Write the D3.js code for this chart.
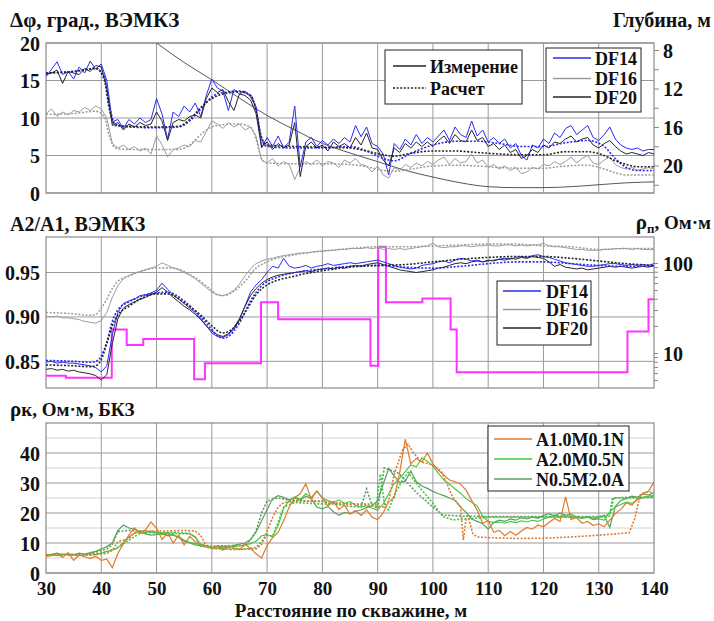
<!DOCTYPE html>
<html>
<head>
<meta charset="utf-8">
<script src="https://cdn.jsdelivr.net/npm/d3@7"></script>
<style>
  body { margin: 0; background: #fff; }
  svg text { font-family: "Liberation Serif", "Times New Roman", serif; font-weight: bold; fill: #111; }
</style>
</head>
<body>
<div id="chart"></div>
<script>
// ---- data -------------------------------------------------------------
// measured curves are sampled every 1 m from 30 to 140 m
const DIST = d3.range(30, 141);
const X_TICKS = [30, 40, 50, 60, 70, 80, 90, 100, 110, 120, 130, 140];

// panel 1: phase difference, deg
const dphiDF14 = [15.5,16.5,17.5,15.8,16.2,15.2,16.8,16.0,17.6,16.5,17.2,15.0,9.5,9.8,8.6,9.8,9.2,10.0,9.4,9.8,
  12.6,10.5,7.2,10.8,10.2,11.6,10.8,12.0,10.2,13.0,15.2,14.0,13.6,11.0,13.8,13.2,13.6,12.8,11.5,6.0,
  7.4,6.2,7.6,6.0,6.8,11.6,3.5,6.8,7.4,6.2,7.0,6.4,7.2,6.6,7.4,6.8,9.0,7.5,8.8,6.6,
  6.2,5.2,2.4,6.6,5.8,7.2,6.4,7.8,6.6,7.4,6.8,7.6,8.4,7.0,8.8,7.8,7.4,9.6,7.6,8.4,
  6.8,7.4,6.6,7.2,6.0,6.6,5.0,4.4,6.4,6.0,7.2,6.6,8.0,7.4,8.6,9.0,7.8,8.4,9.0,7.4,
  7.0,7.8,8.8,7.2,6.4,6.0,5.8,6.0,5.6,5.8,5.8];
const dphiDF16 = [10.6,11.2,10.2,10.8,10.4,11.0,10.8,11.4,11.0,11.6,11.2,10.0,6.6,6.0,6.4,5.8,6.2,5.6,6.0,5.2,
  7.6,6.4,4.8,5.8,6.0,6.4,6.2,7.0,6.8,8.2,9.6,9.2,8.6,9.4,8.8,9.2,8.4,8.8,7.6,4.4,
  4.0,4.6,3.6,4.2,3.8,1.8,3.4,4.2,3.8,4.4,3.6,4.2,4.0,3.4,4.4,4.0,4.6,3.8,3.6,2.8,
  3.6,2.4,2.0,3.4,3.0,3.8,3.4,4.0,3.6,4.2,3.8,4.4,4.8,3.8,4.6,4.0,4.2,5.2,4.0,4.4,
  3.4,3.8,3.2,3.6,3.0,3.4,2.6,2.8,3.4,3.2,3.8,3.6,4.2,3.8,4.2,4.8,4.0,4.6,5.0,4.0,
  3.8,4.4,4.8,3.8,3.4,3.2,3.4,3.0,3.2,3.4,3.2];
const dphiDF20 = [15.8,16.0,16.4,14.6,16.2,16.0,15.8,16.6,16.2,17.0,16.8,14.0,9.0,9.4,8.4,9.2,8.8,9.4,9.0,9.2,
  10.8,9.6,7.0,9.4,9.8,9.6,10.2,10.4,10.0,12.6,14.0,13.4,13.8,12.2,11.0,13.2,13.0,12.4,10.6,6.2,
  6.8,5.8,6.6,6.0,6.4,9.4,2.2,6.2,6.8,6.0,6.4,5.6,6.8,6.2,6.6,6.0,7.4,6.4,8.0,6.0,
  5.8,4.4,3.6,6.0,5.4,6.6,6.0,6.8,6.2,6.8,6.2,7.0,7.6,6.6,7.8,7.0,6.8,8.4,7.0,7.4,
  6.2,6.6,5.8,6.4,5.4,5.8,4.6,5.0,5.8,5.4,6.4,6.0,6.8,6.6,7.2,7.6,6.8,7.2,7.4,6.4,
  6.0,6.6,7.0,6.2,5.6,5.2,5.4,5.2,5.0,5.4,5.2];
const dphiCalcDF14 = [[30,16],[33,16.1],[36,16.3],[39,16.6],[40.5,15.6],[41.5,11.5],[42.5,9.2],[45,8.8],[50,8.7],[54,8.8],
  [56,9.6],[58,11.2],[60,12.8],[62,13.4],[65,13.6],[67,13.0],[68,11.2],[69,7.2],[70,6.2],[75,6.0],[80,6.0],[85,6.2],
  [88,5.6],[91,4.6],[93,4.3],[96,5.3],[100,6.4],[104,6.9],[108,6.9],[112,6.6],[116,6.2],[120,6.2],[124,6.7],[128,7.0],
  [131,6.2],[133,4.6],[135,3.4],[137,3.0],[140,3.0]];
const dphiCalcDF16 = [[30,10.5],[35,10.6],[39,10.9],[40.5,10.2],[41.5,7.5],[42.5,6.0],[45,5.8],[50,5.8],[54,5.8],[56,6.4],
  [58,7.8],[60,8.8],[62,9.1],[65,9.2],[67,8.8],[68,7.2],[69,4.6],[70,4.0],[75,3.9],[80,3.9],[85,3.8],[88,3.5],[91,3.0],
  [93,2.9],[96,3.2],[100,3.6],[104,3.7],[108,3.6],[112,3.4],[116,3.3],[120,3.3],[124,3.6],[128,3.7],[131,3.2],[133,2.7],
  [135,2.4],[140,2.4]];
const dphiCalcDF20 = [[30,16],[35,16.2],[39,16.6],[40.5,15.2],[41.5,11],[42.5,9.0],[45,8.9],[50,8.8],[54,8.9],[56,9.8],
  [58,11.4],[60,12.6],[62,13.2],[65,13.5],[67,13.0],[68,11.0],[69,7.4],[70,6.4],[75,6.2],[80,6.1],[85,6.0],[88,5.6],
  [91,5.1],[93,4.9],[96,5.3],[100,5.6],[104,5.6],[108,5.4],[112,5.2],[116,5.1],[120,5.1],[124,5.5],[128,5.5],[131,5.0],
  [133,4.3],[135,3.8],[137,3.5],[140,3.5]];
// well trajectory depth, m (right axis)
const depthCurve = [[50,7.27],[55,9.3],[60,11.1],[65,13.0],[70,14.8],[75,16.3],[80,17.7],[85,18.7],[90,19.6],[95,20.5],
  [100,21.2],[105,21.8],[110,22.2],[115,22.3],[120,22.3],[125,22.2],[130,22.0],[135,21.8],[140,21.7]];

// panel 2: amplitude ratio
const ampDF14 = [0.849,0.850,0.848,0.849,0.848,0.848,0.847,0.846,0.845,0.843,0.838,0.845,0.880,0.905,0.915,0.918,0.920,0.924,0.925,0.927,
  0.930,0.938,0.931,0.925,0.920,0.915,0.910,0.905,0.898,0.890,0.882,0.878,0.877,0.880,0.886,0.897,0.912,0.928,0.936,0.942,
  0.950,0.957,0.955,0.966,0.957,0.955,0.956,0.958,0.955,0.957,0.958,0.960,0.958,0.959,0.960,0.961,0.960,0.961,0.962,0.963,
  0.964,0.962,0.960,0.958,0.956,0.955,0.954,0.955,0.958,0.959,0.960,0.962,0.963,0.961,0.964,0.966,0.965,0.963,0.964,0.962,
  0.963,0.964,0.965,0.966,0.965,0.967,0.968,0.967,0.969,0.970,0.968,0.967,0.965,0.963,0.961,0.960,0.959,0.958,0.957,0.957,
  0.958,0.959,0.960,0.960,0.959,0.958,0.959,0.958,0.959,0.958,0.960];
const ampDF16 = [0.901,0.900,0.901,0.899,0.899,0.898,0.897,0.895,0.894,0.893,0.896,0.905,0.922,0.935,0.943,0.947,0.949,0.951,0.953,0.955,
  0.957,0.961,0.958,0.955,0.953,0.950,0.947,0.943,0.938,0.933,0.928,0.925,0.924,0.926,0.930,0.937,0.946,0.954,0.960,0.963,
  0.965,0.966,0.968,0.969,0.970,0.971,0.972,0.972,0.973,0.974,0.974,0.975,0.975,0.976,0.976,0.977,0.977,0.977,0.978,0.977,
  0.978,0.976,0.977,0.976,0.977,0.976,0.977,0.978,0.979,0.980,0.983,0.979,0.978,0.979,0.979,0.980,0.980,0.979,0.980,0.980,
  0.981,0.980,0.980,0.981,0.981,0.980,0.981,0.980,0.981,0.981,0.983,0.980,0.979,0.979,0.978,0.977,0.976,0.976,0.975,0.975,
  0.975,0.976,0.976,0.977,0.977,0.977,0.976,0.977,0.976,0.976,0.976];
const ampDF20 = [0.841,0.842,0.840,0.841,0.839,0.840,0.838,0.837,0.836,0.834,0.829,0.835,0.870,0.898,0.910,0.914,0.917,0.920,0.922,0.925,
  0.928,0.933,0.928,0.922,0.917,0.912,0.908,0.903,0.897,0.890,0.884,0.880,0.878,0.881,0.888,0.898,0.912,0.924,0.932,0.938,
  0.942,0.945,0.947,0.948,0.949,0.950,0.951,0.952,0.951,0.953,0.954,0.955,0.954,0.956,0.955,0.957,0.958,0.957,0.959,0.960,
  0.961,0.959,0.957,0.955,0.953,0.952,0.951,0.950,0.951,0.952,0.953,0.955,0.956,0.958,0.960,0.961,0.960,0.962,0.963,0.962,
  0.964,0.963,0.965,0.964,0.966,0.965,0.967,0.966,0.968,0.967,0.966,0.962,0.957,0.959,0.956,0.955,0.954,0.955,0.953,0.954,
  0.955,0.956,0.957,0.956,0.957,0.956,0.955,0.956,0.957,0.956,0.958];
const ampCalcDF14 = [[30,0.851],[35,0.850],[38,0.849],[39,0.850],[40,0.856],[41,0.872],[42,0.895],[43,0.908],[45,0.917],[50,0.927],
  [52,0.928],[55,0.918],[58,0.900],[60,0.886],[61,0.879],[62,0.876],[63,0.878],[65,0.893],[67,0.918],[69,0.935],[72,0.945],
  [76,0.951],[80,0.954],[85,0.957],[90,0.958],[95,0.956],[100,0.955],[105,0.957],[110,0.960],[115,0.962],[120,0.962],
  [125,0.960],[130,0.958],[135,0.957],[140,0.957]];
const ampCalcDF16 = [[30,0.905],[34,0.904],[38,0.902],[39,0.903],[40,0.910],[41,0.920],[42,0.932],[43,0.940],[45,0.946],[50,0.955],
  [53,0.955],[56,0.948],[60,0.930],[61,0.925],[62,0.924],[64,0.929],[66,0.940],[68,0.955],[70,0.962],[75,0.970],[80,0.974],
  [85,0.977],[90,0.979],[95,0.979],[100,0.980],[105,0.981],[110,0.982],[115,0.982],[120,0.980],[125,0.979],[130,0.976],
  [135,0.977],[140,0.977]];
const ampCalcDF20 = [[30,0.846],[35,0.845],[38,0.844],[39,0.845],[40,0.852],[41,0.870],[42,0.890],[43,0.902],[45,0.912],[50,0.926],
  [52,0.926],[55,0.916],[58,0.902],[60,0.890],[62,0.882],[64,0.888],[66,0.905],[68,0.925],[70,0.936],[75,0.946],[80,0.952],
  [85,0.956],[90,0.958],[95,0.959],[100,0.962],[105,0.965],[110,0.967],[115,0.968],[120,0.968],[125,0.966],[130,0.963],
  [135,0.960],[140,0.958]];
// model resistivity, Ohm*m (step, right log axis)
const rhoModel = [[30,5.6],[33.6,5.3],[41.9,18.3],[44.6,12.3],[47.6,14.3],[56.8,5.1],[58.75,7.7],[68.9,36.6],[72.0,23.7],
  [88.7,7.2],[90.1,152],[91.5,36.6],[98.1,40.4],[103.2,18.3],[104.3,6.1],[135.2,17.3],[139.0,39.5],[140,39.5]];

// panel 3: apparent resistivity, BKZ
const bkzA1 = [5.5,5.8,6.5,5.2,6.8,4.2,6.0,5.4,4.8,5.6,4.2,4.6,1.8,6.5,9.8,12.6,15.0,13.2,14.4,17.0,
  15.0,11.2,13.4,10.0,12.6,9.4,12.2,10.4,9.6,9.0,8.2,9.0,7.6,9.2,8.4,7.8,9.6,8.2,6.4,5.0,
  9.2,11.8,13.6,17.4,22.0,25.2,26.4,29.8,24.6,27.4,25.0,22.4,23.8,21.2,22.6,19.6,20.8,19.2,21.0,18.6,
  17.8,20.0,23.8,25.0,33.6,44.6,36.4,38.2,37.0,40.0,36.4,34.2,32.6,31.0,30.4,29.6,27.6,24.2,21.0,16.6,
  17.4,13.6,14.2,12.4,13.8,12.6,14.0,15.2,14.6,16.0,15.4,16.8,18.2,17.2,25.4,17.8,18.4,16.6,17.2,15.8,
  16.4,15.4,17.6,19.8,21.2,23.4,22.6,24.8,26.6,27.2,30.4];
const bkzA2 = [6.0,6.2,5.8,6.4,6.0,6.2,5.8,6.0,6.4,6.2,6.6,7.2,7.6,8.4,10.2,12.0,13.2,13.8,13.4,14.0,
  13.6,12.8,13.2,12.6,12.0,11.0,10.2,9.8,9.4,9.0,8.6,8.8,8.4,8.6,8.8,9.0,9.4,9.8,10.6,12.4,
  12.8,12.2,15.8,21.6,24.2,25.4,24.6,26.4,25.2,27.2,25.0,24.2,23.6,24.4,23.2,23.8,22.6,22.0,22.4,21.6,
  21.0,23.0,26.4,29.8,31.6,33.8,36.0,35.4,38.4,37.2,35.6,33.2,31.0,29.6,28.0,26.6,24.8,23.6,22.4,19.0,
  17.2,16.8,17.0,16.6,17.2,16.8,17.4,17.0,17.6,17.2,18.0,18.6,19.4,18.8,19.2,18.4,18.8,18.2,18.6,17.8,
  18.0,17.6,20.4,22.0,22.8,23.6,23.2,24.4,25.0,25.6,26.0];
const bkzN05 = [6.0,6.2,6.6,6.0,6.4,6.0,6.6,6.2,6.8,7.2,8.0,8.8,10.0,14.2,16.0,15.0,14.6,13.8,13.0,12.6,
  12.8,13.2,12.4,12.8,11.8,10.6,10.0,9.4,9.0,8.8,8.4,8.8,9.0,8.6,9.2,9.6,10.0,11.2,13.6,17.4,
  21.2,24.8,25.8,25.2,24.4,25.0,24.2,25.6,24.8,22.0,21.4,22.2,20.4,19.2,20.2,19.8,20.6,21.0,21.8,22.4,
  24.0,29.6,34.8,32.4,30.2,30.6,34.0,30.4,29.0,28.2,27.2,26.4,25.8,25.0,24.2,22.0,20.2,18.0,17.2,16.4,
  14.6,16.8,17.6,17.2,18.0,17.6,18.4,18.0,18.6,18.2,19.2,19.8,19.0,20.0,19.2,19.6,18.6,18.2,18.8,18.0,
  18.4,19.2,15.2,22.2,24.2,24.8,25.6,25.2,26.4,26.0,26.8];
const bkzCalcA1 = [[30,6],[38,6],[41,6.5],[42,7.5],[43,10.5],[45,11.5],[46,13.5],[48,14],[52,14],[55,14.2],[57,14],[58,12.5],
  [59,9],[60,8.2],[64,7.8],[68,8],[69,9.5],[70,14],[71,18.5],[72,22],[73,23.5],[76,24],[80,24],[85,23],[89,22.5],[91,22],
  [92,24],[93,33],[94.5,41],[95.5,43],[96.5,40],[98,37],[100,36],[101.5,34],[102.5,30],[103.5,25.5],[105,22],[105.5,11],
  [106,18],[106.5,18],[107.2,13.2],[108,12],[110,11.8],[115,11.5],[120,11.6],[125,12],[130,12.6],[135.5,13.4],[136.5,18],
  [137.5,26],[138.5,27],[140,27]];
const bkzCalcA2 = [[30,6],[38,6],[41,7],[43,8.5],[45,11],[47,13.2],[50,13.5],[54,13.5],[56,13.2],[57,12],[58,9],[60,8.2],
  [66,8],[68,8.5],[69,10.5],[70,12.5],[71,12.2],[72,17],[73,22],[75,23.5],[80,23],[85,23],[89.8,23],[90.5,33],[91.3,22],
  [92,21],[93,26],[94.5,31],[95.5,33.5],[97.5,28.8],[100,23.2],[101.8,18.8],[103.6,17.7],[110,18.6],[120,18.6],[130,18.6],
  [132,19],[132.7,25],[135,25],[140,25.4]];
const bkzCalcN05 = [[30,6],[38,6.4],[40,7.5],[41,8],[42,9.5],[43,13.8],[45,14.2],[48,14],[50,13.4],[56,13],[57,12],[58,9.4],
  [60,9],[66,9.2],[67,11],[68,14],[69,20],[70,24],[72,25],[74,24.2],[80,23.8],[85,22.2],[87,22],[88,28],[89,22.5],[90,21.5],
  [91.2,35],[93.9,33.2],[96.9,27],[100,22],[101.8,19.3],[105,19],[110,18.8],[120,18.8],[130,18.8],[132,19.5],[132.5,25],
  [135,25.2],[140,25.2]];

// ---- layout -----------------------------------------------------------
const W = 714, H = 621;
const X0 = 46, X1 = 654;
const C = { blue: '#2b2bf2', gray: '#9c9c9c', black: '#262626', pink: '#ff33ff',
            orange: '#e07a2c', green: '#3cc83c', dgreen: '#5e9e5e', grid: '#9a9a9a', gridLight: '#d2d2d2' };
const DOT = '2,1.6';

const svg = d3.select('#chart').append('svg').attr('width', W).attr('height', H);
const x = d3.scaleLinear().domain([30, 140]).range([X0, X1]);
const onGrid = arr => DIST.map((d, i) => [d, arr[i]]);

function panel(id, top, bottom, yScale, yTicks, fmt, minor) {
  const g = svg.append('g');
  g.append('clipPath').attr('id', id).append('rect')
    .attr('x', X0).attr('y', top).attr('width', X1 - X0).attr('height', bottom - top);
  if (minor) {
    g.selectAll('.hminor').data(minor).join('line')
      .attr('x1', X0).attr('x2', X1).attr('y1', d => yScale(d)).attr('y2', d => yScale(d))
      .attr('stroke', C.gridLight).attr('stroke-width', 1);
  }
  g.selectAll('.hgrid').data(yTicks).join('line')
    .attr('x1', X0).attr('x2', X1).attr('y1', d => yScale(d)).attr('y2', d => yScale(d))
    .attr('stroke', C.grid).attr('stroke-width', 1);
  g.selectAll('.vgrid').data(X_TICKS.slice(1, -1)).join('line')
    .attr('x1', d => x(d)).attr('x2', d => x(d)).attr('y1', top).attr('y2', bottom)
    .attr('stroke', C.grid).attr('stroke-width', 1);
  g.append('rect').attr('x', X0).attr('y', top).attr('width', X1 - X0).attr('height', bottom - top)
    .attr('fill', 'none').attr('stroke', '#8a8a8a').attr('stroke-width', 1.2);

  const ax = g.append('g').attr('transform', `translate(${X0 - 3},0)`)
    .call(d3.axisLeft(yScale).tickValues(yTicks).tickSize(0).tickFormat(fmt));
  ax.select('.domain').remove();
  ax.selectAll('text').attr('font-size', 20).attr('dy', '0.35em');

  const plot = g.append('g').attr('clip-path', `url(#${id})`);
  return plot;
}

function drawLine(plot, data, y, color, width, dotted, curve) {
  plot.append('path').datum(data)
    .attr('fill', 'none').attr('stroke', color).attr('stroke-width', width)
    .attr('stroke-dasharray', dotted ? DOT : null)
    .attr('d', d3.line().x(d => x(d[0])).y(d => y(d[1])).curve(curve || d3.curveLinear));
}

function legend(items, bx, by, bw, bh, lx0, lx1, tx, rows) {
  const g = svg.append('g');
  g.append('rect').attr('x', bx).attr('y', by).attr('width', bw).attr('height', bh)
    .attr('fill', '#fff').attr('stroke', '#222').attr('stroke-width', 1);
  items.forEach((it, i) => {
    const cy = rows[i];
    g.append('line').attr('x1', lx0).attr('x2', lx1).attr('y1', cy).attr('y2', cy)
      .attr('stroke', it.color).attr('stroke-width', it.width || 1.6)
      .attr('stroke-dasharray', it.dotted ? DOT : null);
    g.append('text').attr('x', tx).attr('y', cy + 6.5).attr('font-size', 18).text(it.label);
  });
}

// ---- panel 1 ----------------------------------------------------------
const y1 = d3.scaleLinear().domain([0, 20]).range([193, 43]);
const yDepth = d3.scaleLinear().domain([8, 20]).range([50, 165.5]);
const p1 = panel('clip1', 43, 193, y1, [0, 5, 10, 15, 20], d3.format('d'));
const smooth = d3.curveMonotoneX;
drawLine(p1, depthCurve, yDepth, '#444', 0.9, false, smooth);
drawLine(p1, onGrid(dphiDF16), y1, C.gray, 1);
drawLine(p1, dphiCalcDF16, y1, C.gray, 1.5, true, smooth);
drawLine(p1, onGrid(dphiDF14), y1, C.blue, 1);
drawLine(p1, onGrid(dphiDF20), y1, C.black, 1);
drawLine(p1, dphiCalcDF14, y1, C.blue, 1.6, true, smooth);
drawLine(p1, dphiCalcDF20, y1, C.black, 1.6, true, smooth);

const depthAxis = svg.append('g').attr('transform', `translate(${X1},0)`)
  .call(d3.axisRight(yDepth).tickValues([8, 10, 12, 14, 16, 18, 20, 22]).tickSize(5).tickPadding(4)
    .tickFormat(d => d % 4 === 0 ? d : ''));
depthAxis.select('.domain').remove();
depthAxis.selectAll('line').attr('stroke', '#888');
depthAxis.selectAll('text').attr('font-size', 20).attr('dy', '0.35em');

svg.append('text').attr('x', 10).attr('y', 27).attr('font-size', 21).text('Δφ, град., ВЭМКЗ');
svg.append('text').attr('x', 711).attr('y', 27).attr('font-size', 20).attr('text-anchor', 'end').text('Глубина, м');

legend([{ label: 'Измерение', color: C.black }, { label: 'Расчет', color: C.black, dotted: true }],
  385, 50, 137, 54, 393, 426, 430, [66, 88]);
legend([{ label: 'DF14', color: C.blue }, { label: 'DF16', color: C.gray }, { label: 'DF20', color: C.black }],
  546, 48, 95, 64, 553, 591, 595, [58, 78.5, 97]);

// ---- panel 2 ----------------------------------------------------------
const y2 = d3.scaleLinear().domain([0.82, 0.99]).range([388, 237]);
const yRho = d3.scaleLog().domain([10, 100]).range([353, 263]);
const p2 = panel('clip2', 237, 388, y2, [0.85, 0.90, 0.95], d3.format('.2f'));
drawLine(p2, rhoModel, yRho, C.pink, 2, false, d3.curveStepAfter);
drawLine(p2, onGrid(ampDF16), y2, C.gray, 1);
drawLine(p2, ampCalcDF16, y2, C.gray, 1.5, true, smooth);
drawLine(p2, onGrid(ampDF14), y2, C.blue, 1);
drawLine(p2, onGrid(ampDF20), y2, C.black, 1);
drawLine(p2, ampCalcDF14, y2, C.blue, 1.6, true, smooth);
drawLine(p2, ampCalcDF20, y2, C.black, 1.6, true, smooth);

const logTicks = [5, 6, 7, 8, 9, 10, 20, 30, 40, 50, 60, 70, 80, 90, 100];
const rhoAxis = svg.append('g').attr('transform', `translate(${X1},0)`)
  .call(d3.axisRight(yRho).tickValues(logTicks).tickSize(4).tickPadding(5)
    .tickFormat(d => (d === 10 || d === 100) ? d : ''));
rhoAxis.select('.domain').remove();
rhoAxis.selectAll('line').attr('stroke', '#888');
rhoAxis.selectAll('text').attr('font-size', 20).attr('dy', '0.35em');

svg.append('text').attr('x', 10).attr('y', 231).attr('font-size', 20).text('A2/A1, ВЭМКЗ');
const rhoTitle = svg.append('text').attr('x', 711).attr('y', 229).attr('font-size', 19).attr('text-anchor', 'end');
rhoTitle.append('tspan').attr('font-size', 21).text('ρ');
rhoTitle.append('tspan').attr('font-size', 13).attr('dy', 4).text('п');
rhoTitle.append('tspan').attr('dy', -4).text(', Ом·м');

legend([{ label: 'DF14', color: C.blue }, { label: 'DF16', color: C.gray }, { label: 'DF20', color: C.black }],
  497, 281, 94, 64, 503, 541, 546, [291, 309.5, 328]);

// ---- panel 3 ----------------------------------------------------------
const y3 = d3.scaleLinear().domain([0, 50]).range([573, 423]);
const p3 = panel('clip3', 423, 573, y3, [0, 10, 20, 30, 40], d3.format('d'), [5, 15, 25, 35, 45]);
drawLine(p3, onGrid(bkzN05), y3, C.dgreen, 1.2);
drawLine(p3, bkzCalcN05, y3, C.dgreen, 1.6, true);
drawLine(p3, onGrid(bkzA2), y3, C.green, 1.1);
drawLine(p3, bkzCalcA2, y3, C.green, 1.6, true);
drawLine(p3, onGrid(bkzA1), y3, C.orange, 1.2);
drawLine(p3, bkzCalcA1, y3, C.orange, 1.6, true);

const xAxis = svg.append('g').attr('transform', 'translate(0,573)')
  .call(d3.axisBottom(x).tickValues(X_TICKS).tickSize(0).tickPadding(8.5).tickFormat(d3.format('d')));
xAxis.select('.domain').remove();
xAxis.selectAll('text').attr('font-size', 19);

const t3 = svg.append('text').attr('x', 10).attr('y', 416).attr('font-size', 19);
t3.append('tspan').attr('font-size', 21).text('ρ');
t3.append('tspan').text('к, Ом·м, БКЗ');
svg.append('text').attr('x', 351).attr('y', 617).attr('font-size', 19).attr('text-anchor', 'middle')
  .text('Расстояние по скважине, м');

legend([{ label: 'A1.0M0.1N', color: C.orange }, { label: 'A2.0M0.5N', color: C.green }, { label: 'N0.5M2.0A', color: C.dgreen }],
  488, 426, 141, 65, 494, 532, 536, [439, 459, 479]);
</script>
</body>
</html>
